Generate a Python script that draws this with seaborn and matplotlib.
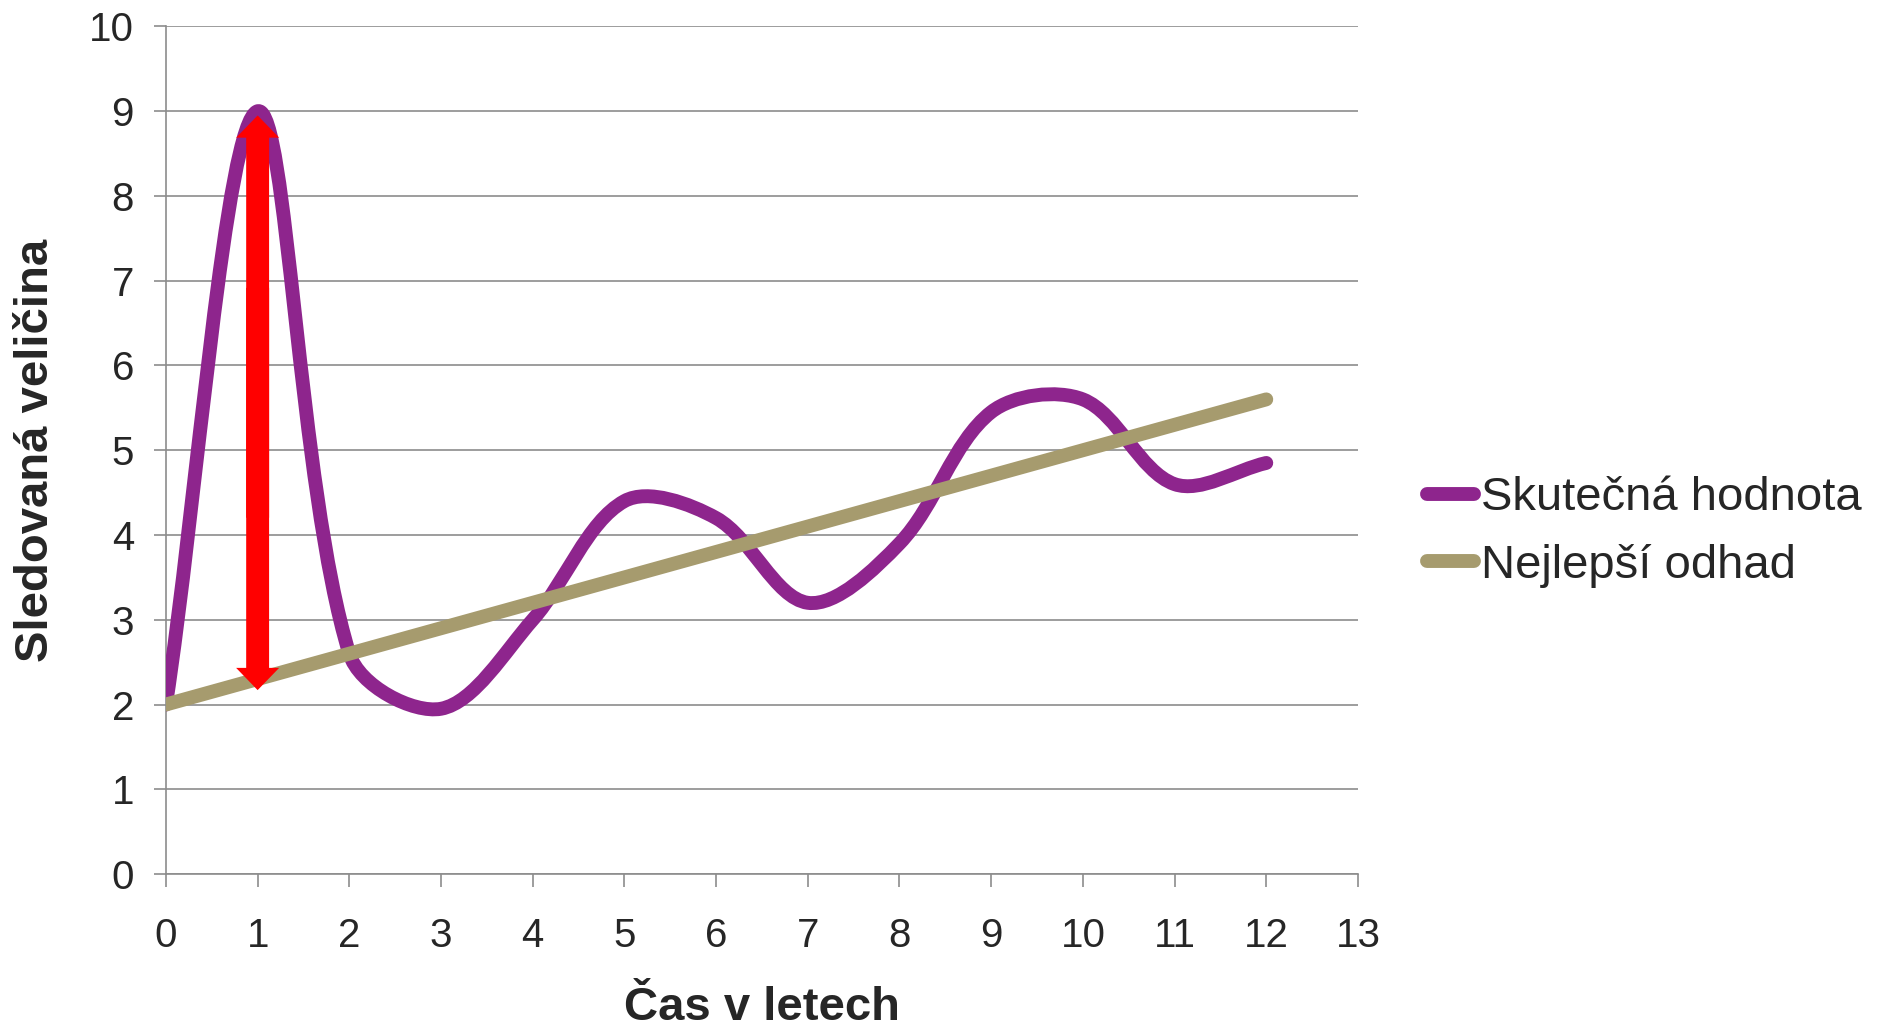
import numpy as np
import pandas as pd
import matplotlib
matplotlib.use("Agg")
import matplotlib.pyplot as plt
from matplotlib.path import Path
from matplotlib.patches import PathPatch, FancyArrowPatch, ArrowStyle
from matplotlib.lines import Line2D
import seaborn as sns

# Data
years = [0, 1, 2, 3, 4, 5, 6, 7, 8, 9, 10, 11, 12]
actual = [2.0, 9.0, 2.6, 1.95, 3.0, 4.4, 4.2, 3.2, 3.9, 5.45, 5.6, 4.6, 4.85]
estimate = [2.0, 2.3, 2.6, 2.9, 3.2, 3.5, 3.8, 4.1, 4.4, 4.7, 5.0, 5.3, 5.6]
arrow_x = 1
arrow_low, arrow_high = 2.17, 8.95

x_ticks = list(range(0, 14))
y_ticks = list(range(0, 11))

PURPLE = "#8E258D"
BEIGE = "#A69B6E"
GRID = "#8C8C8C"

sns.set_style("white")
plt.rcParams["font.family"] = ["Liberation Sans", "DejaVu Sans"]


def smooth_path(ax, xs, ys):
    """Excel-like smoothed line: bezier segments with tangents weighted by
    the on-screen length of the neighbouring segments."""
    pts = ax.transData.transform(np.column_stack([xs, ys]).astype(float))
    n = len(pts)
    verts = [pts[0]]
    codes = [Path.MOVETO]
    for i in range(n - 1):
        p0 = pts[i - 1] if i > 0 else pts[i]
        p1, p2 = pts[i], pts[i + 1]
        p3 = pts[i + 2] if i + 2 < n else pts[i + 1]
        d01 = np.hypot(*(p1 - p0))
        d12 = np.hypot(*(p2 - p1))
        d23 = np.hypot(*(p3 - p2))
        c1 = p1 + (p2 - p0) * d12 / max(d01 + d12, 1e-9) / 3
        c2 = p2 - (p3 - p1) * d12 / max(d12 + d23, 1e-9) / 3
        verts += [c1, c2, p2]
        codes += [Path.CURVE4] * 3
    verts = ax.transData.inverted().transform(np.array(verts))
    return Path(verts, codes)


fig = plt.figure(figsize=(18.9, 10.29), dpi=100)
ax = fig.add_axes([0.0878, 0.1506, 0.6307, 0.8237])
ax.set_xlim(0, 13)
ax.set_ylim(0, 10)

# actual values (smoothed)
patch = PathPatch(smooth_path(ax, years, actual), facecolor="none", edgecolor=PURPLE,
                  lw=10, capstyle="round", joinstyle="round", zorder=3)
ax.add_patch(patch)

# best estimate line
df = pd.DataFrame({"year": years, "estimate": estimate})
sns.lineplot(data=df, x="year", y="estimate", ax=ax, color=BEIGE, lw=10,
             solid_capstyle="round", zorder=4, legend=False)

# red double arrow (two overlapping halves)
span = arrow_high - arrow_low
style = ArrowStyle("simple", head_length=16, head_width=31, tail_width=16.5)
for start, end in ((arrow_low + 0.3 * span, arrow_high),
                   (arrow_high - 0.3 * span, arrow_low)):
    ax.add_patch(FancyArrowPatch((arrow_x, start), (arrow_x, end), arrowstyle=style,
                                 mutation_scale=1, color="red", lw=0,
                                 shrinkA=0, shrinkB=0, zorder=5))

ax.set_xlim(0, 13)
ax.set_ylim(0, 10)
ax.set_xticks(x_ticks)
ax.set_yticks(y_ticks)
ax.set_xticklabels([str(t) for t in x_ticks])
ax.set_yticklabels([str(t) for t in y_ticks])
ax.grid(axis="y", color=GRID, lw=1.2)
ax.grid(axis="x", visible=False)
ax.set_axisbelow(True)

for side in ["top", "right"]:
    ax.spines[side].set_visible(False)
for side in ["left", "bottom"]:
    ax.spines[side].set_color(GRID)
    ax.spines[side].set_linewidth(1.2)

ax.tick_params(axis="x", direction="out", length=9, width=1.2, color=GRID,
               labelsize=29, pad=22, bottom=True)
ax.tick_params(axis="y", direction="out", length=9, width=1.2, color=GRID,
               labelsize=29, pad=14, left=True)

ax.set_xlabel("Čas v letech", fontsize=34, fontweight="bold")
ax.set_ylabel("Sledovaná veličina", fontsize=34, fontweight="bold")
ax.xaxis.set_label_coords(0.5, -0.158)
ax.xaxis.label.set_va("center")
ax.yaxis.set_label_coords(-0.109, 0.5)
ax.yaxis.label.set_va("center")

handles = [
    Line2D([], [], color=PURPLE, lw=10, solid_capstyle="round"),
    Line2D([], [], color=BEIGE, lw=10, solid_capstyle="round"),
]
fig.legend(handles, ["Skutečná hodnota", "Nejlepší odhad"], loc="center left",
           bbox_to_anchor=(0.755, 0.483), frameon=False, fontsize=34,
           handlelength=1.0, handletextpad=0.15, labelspacing=0.5, borderpad=0,
           borderaxespad=0)

fig.savefig("out.png", dpi=100)
